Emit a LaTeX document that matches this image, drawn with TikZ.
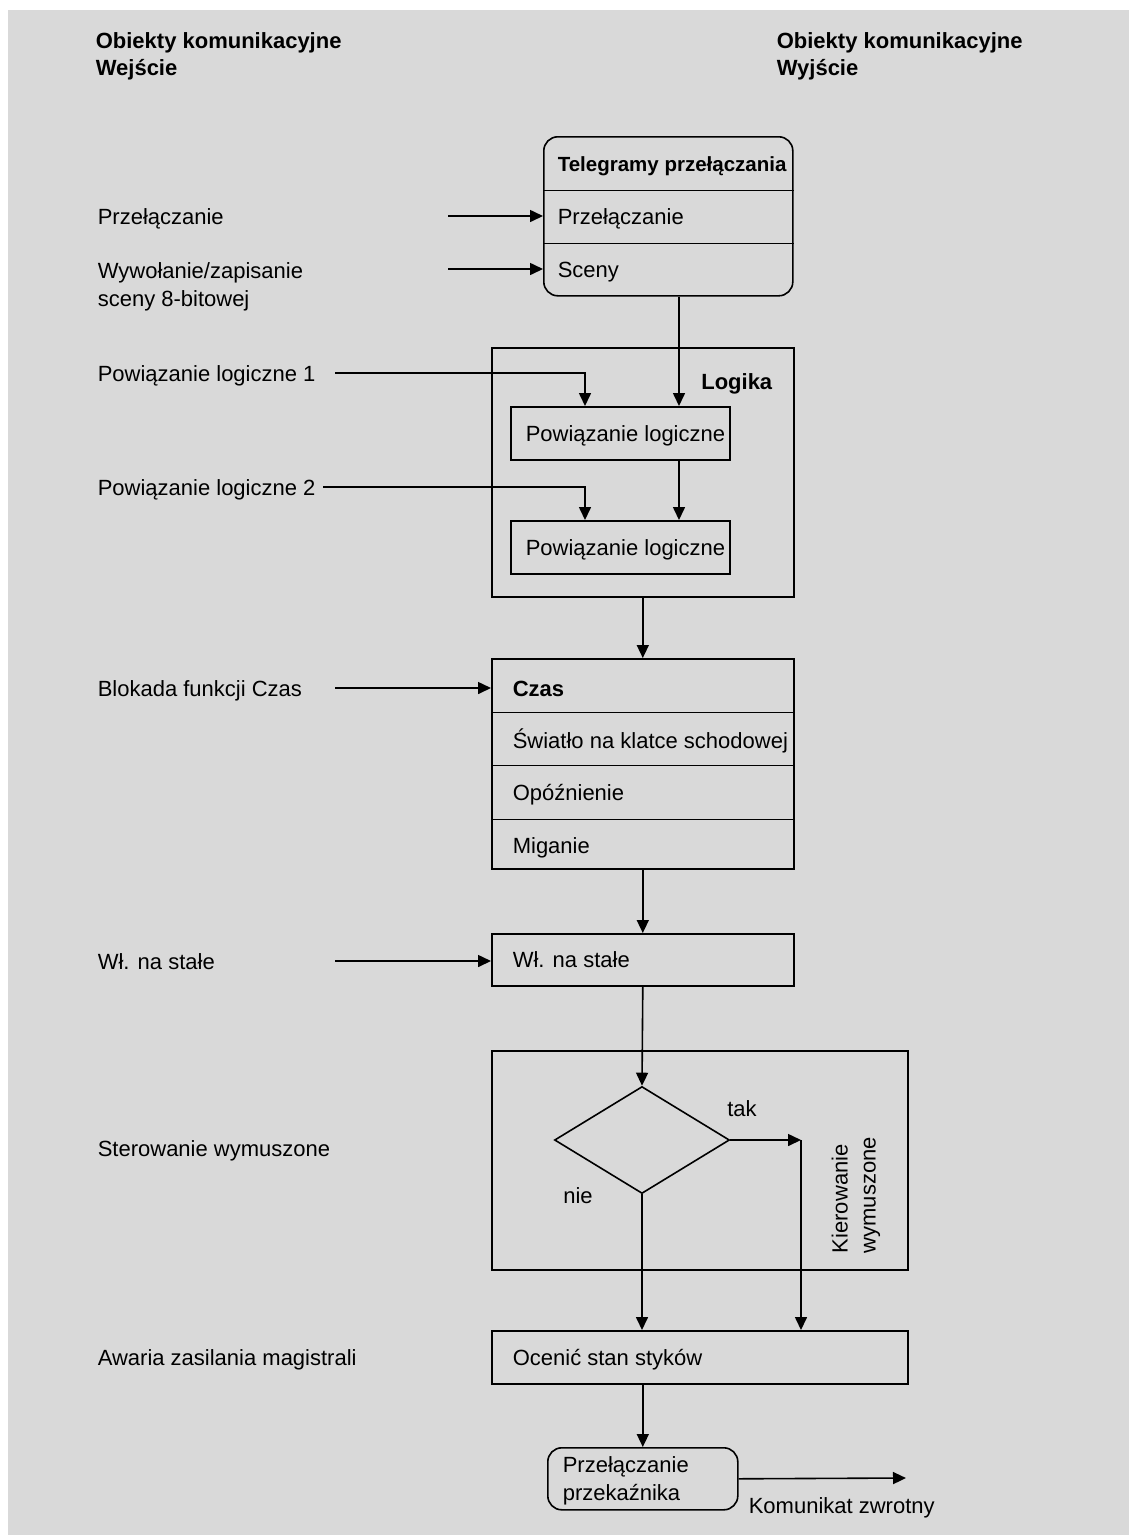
\documentclass[tikz,border=0pt]{standalone}
\usepackage{fontspec}
\setmainfont{Liberation Sans}
\usetikzlibrary{arrows.meta,shapes.geometric}
\definecolor{bg}{HTML}{D9D9D9}
\newcommand\myfs{\fontsize{22}{28}\selectfont}
\newcommand\myhfs{\fontsize{22}{27}\selectfont\bfseries}
\newcommand\mybfs{\fontsize{20.5}{27}\selectfont\bfseries}
\begin{document}
\begin{tikzpicture}[x=1pt,y=-1pt,line width=1.6pt,
  arr/.style={-{Triangle[length=13pt,width=12pt]}},
  txt/.style={font=\myfs,inner sep=0,anchor=base west,align=left},
  htxt/.style={txt,font=\myhfs},
  btxt/.style={txt,font=\mybfs},
  box/.style={draw,inner sep=0,anchor=north west},
  slot/.style={inner sep=0,anchor=north west}]
\fill[white] (0,0) rectangle (1129,1535);
\fill[bg] (8,10) rectangle (1129,1535);
\useasboundingbox (0,0) rectangle (1129,1535);

% headers (multi-line nodes: base = last line)
\node[htxt] (hin) at (95,75) {Obiekty komunikacyjne\\Wejście};
\node[htxt] (hout) at (776,75) {Obiekty komunikacyjne\\Wyjście};

% left labels
\node[txt] (lsw) at (97,224) {Przełączanie};
\node[txt] (lsc) at (97,306) {Wywołanie/zapisanie\\sceny 8-bitowej};
\node[txt] (lpl1) at (97,381) {Powiązanie logiczne 1};
\node[txt] (lpl2) at (97,495) {Powiązanie logiczne 2};
\node[txt] (lbl) at (97,696) {Blokada funkcji Czas};
\node[txt] (lwl) at (97,969) {Wł. na stałe};
\node[txt] (lst) at (97,1156) {Sterowanie wymuszone};
\node[txt] (law) at (97,1365) {Awaria zasilania magistrali};

% Telegramy box
\node[box,rounded corners=14,minimum width=249,minimum height=159] (tel) at (543,136) {};
\node[slot,minimum width=249,minimum height=53] (telh) at (543,136) {};
\node[slot,minimum width=249,minimum height=53] (telp) at (543,189) {};
\node[slot,minimum width=249,minimum height=53] (tels) at (543,242) {};
\draw (telh.south west) -- (telh.south east);
\draw (telp.south west) -- (telp.south east);
\node[btxt] (ttel) at (557,171) {Telegramy przełączania};
\node[txt] (ttelp) at (557,224) {Przełączanie};
\node[txt] (ttels) at (557,277) {Sceny};

% Logika
\node[box,minimum width=302,minimum height=249] (log) at (491,347) {};
\node[htxt,anchor=base east] (tlog) at (773,389) {Logika};
\node[box,minimum width=219,minimum height=53] (pl1) at (510,406) {};
\node[box,minimum width=219,minimum height=53] (pl2) at (510,520) {};
\node[txt] (tpl1) at (525,441) {Powiązanie logiczne};
\node[txt] (tpl2) at (525,555) {Powiązanie logiczne};

% Czas
\node[box,minimum width=302,minimum height=210] (czas) at (491,658) {};
\node[slot,minimum width=302,minimum height=53] (cz1) at (491,658) {};
\node[slot,minimum width=302,minimum height=53] (cz2) at (491,711) {};
\node[slot,minimum width=302,minimum height=54] (cz3) at (491,764) {};
\draw (cz1.south west) -- (cz1.south east);
\draw (cz2.south west) -- (cz2.south east);
\draw (cz3.south west) -- (cz3.south east);
\node[htxt] (tcz1) at (512,696) {Czas};
\node[txt] (tcz2) at (512,748) {Światło na klatce schodowej};
\node[txt] (tcz3) at (512,800) {Opóźnienie};
\node[txt] (tcz4) at (512,853) {Miganie};

% Wl na stale
\node[box,minimum width=302,minimum height=52] (wl) at (491,933) {};
\node[txt] (twl) at (512,967) {Wł. na stałe};

% Kierowanie
\node[box,minimum width=416,minimum height=219] (kier) at (491,1050) {};
\node[draw,diamond,inner sep=0,minimum width=175,minimum height=107] (dia) at (642,1140) {};
\node[txt,anchor=base] (ttak) at (742,1116) {tak};
\node[txt,anchor=base] (tnie) at (578,1203) {nie};
\node[txt,rotate=90,anchor=west] (tkier) at (856,1254) {Kierowanie\\wymuszone};

% Ocenic
\node[box,minimum width=416,minimum height=53] (oc) at (491,1330) {};
\node[txt] (toc) at (512,1365) {Ocenić stan styków};

% relay
\node[box,rounded corners=14,minimum width=190,minimum height=62] (rel) at (547,1447) {};
\node[txt] (trel) at (562,1500) {Przełączanie\\przekaźnika};
\node[txt] (tkom) at (748,1513) {Komunikat zwrotny};

% coordinates
\coordinate (s1) at (448,216);
\coordinate (s2) at (448,269);
\coordinate (s3) at (335,373);
\coordinate (s4) at (323,487);
\coordinate (s5) at (335,688);
\coordinate (s6) at (335,961);
\coordinate (xA) at (679,0);
\coordinate (xB) at (585,0);
\coordinate (tk) at (801,1140);
\coordinate (ko) at (906,1478);

% connectors
\draw[arr] (s1) -- (s1 -| telp.west);
\draw[arr] (s2) -- (s2 -| tels.west);
\draw[arr] (tel.south -| xA) -- (pl1.north -| xA);
\draw[arr] (s3) -| (pl1.north -| xB);
\draw[arr] (s4) -| (pl2.north -| xB);
\draw[arr] (pl1.south -| xA) -- (pl2.north -| xA);
\draw[arr] (log.south) -- (czas.north);
\draw[arr] (s5) -- (s5 -| czas.west);
\draw[arr] (czas.south) -- (wl.north);
\draw[arr] (s6) -- (s6 -| wl.west);
\draw[arr] (wl.south) -- (dia.north);
\draw[arr] (dia.east) -- (tk);
\draw[arr] (tk) -- (oc.north -| tk);
\draw[arr] (dia.south) -- (oc.north -| dia.south);
\draw[arr] (oc.south -| rel.north) -- (rel.north);
\draw[arr] (rel.east) -- (ko);
\end{tikzpicture}
\end{document}
